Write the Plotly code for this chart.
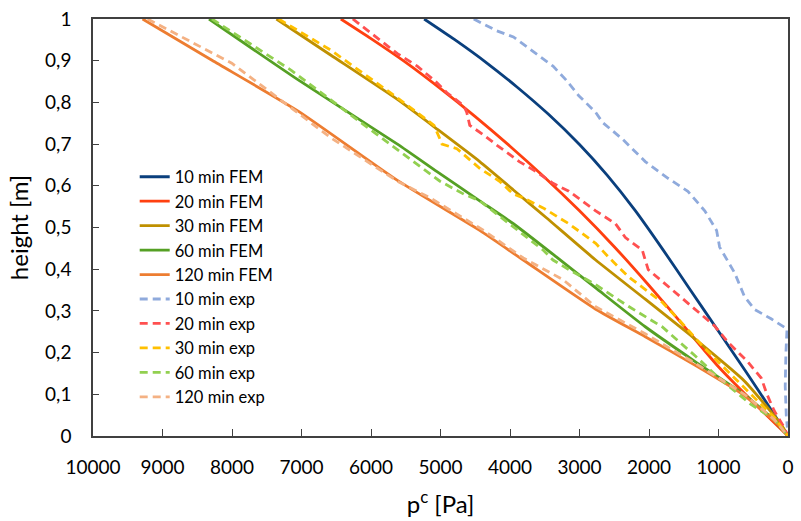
import plotly.graph_objects as go

# ---------------- data (p^c in Pa, height in m) ----------------
fem10_x = [5235, 4800, 4337, 3900, 3450, 3000, 2600, 2200, 1800, 1400, 1000, 600, 200, 0]
fem10_y = [1.0, 0.951, 0.895, 0.837, 0.772, 0.699, 0.625, 0.541, 0.447, 0.349, 0.251, 0.153, 0.052, 0]

fem20_x = [6434, 6000, 5500, 5000, 4500, 4000, 3500, 3000, 2500, 2000, 1500, 1000, 500, 0]
fem20_y = [1.0, 0.953, 0.896, 0.833, 0.766, 0.695, 0.620, 0.540, 0.454, 0.361, 0.264, 0.166, 0.081, 0]

fem30_x = [7361, 6576, 5620, 5050, 4436, 3951, 3481, 2767, 2054, 1341, 628, 100, 0]
fem30_y = [1.0, 0.913, 0.807, 0.736, 0.658, 0.590, 0.524, 0.422, 0.328, 0.233, 0.132, 0.028, 0]

fem60_x = [8331, 7047, 5620, 5050, 4436, 3951, 3338, 2767, 2054, 1341, 628, 243, 0]
fem60_y = [1.0, 0.854, 0.700, 0.634, 0.564, 0.509, 0.430, 0.355, 0.262, 0.179, 0.099, 0.045, 0]

fem120_x = [9287, 8288, 7047, 5620, 4436, 3809, 2767, 2054, 1341, 628, 100, 0]
fem120_y = [1.0, 0.901, 0.779, 0.613, 0.493, 0.422, 0.304, 0.238, 0.170, 0.097, 0.021, 0]

exp10_x = [4522, 4194, 3951, 3623, 3381, 3195, 3010, 2767, 2668, 2382, 2054, 1726, 1441, 1198,
           1027, 984, 870, 770, 628, 485, 243, 14, 30, 40, 25, 10]
exp10_y = [1.0, 0.972, 0.957, 0.917, 0.887, 0.854, 0.816, 0.776, 0.752, 0.712, 0.658, 0.618, 0.587, 0.540,
           0.493, 0.453, 0.422, 0.392, 0.335, 0.304, 0.281, 0.257, 0.200, 0.120, 0.050, 0.020]

exp20_x = [6262, 5620, 5335, 5050, 4907, 4665, 4622, 4579, 4379, 4194, 3866, 3623, 3381, 3153, 2767,
           2482, 2340, 2097, 2054, 2011, 1669, 1341, 1056, 870, 585, 385, 300, 200, 57, 0]
exp20_y = [1.0, 0.917, 0.887, 0.847, 0.823, 0.792, 0.776, 0.745, 0.722, 0.698, 0.658, 0.634, 0.606, 0.587, 0.540,
           0.509, 0.476, 0.446, 0.422, 0.399, 0.351, 0.304, 0.264, 0.226, 0.179, 0.139, 0.099, 0.061, 0.021, 0]

exp30_x = [7328, 6576, 5620, 5335, 5093, 5007, 4979, 4764, 4436, 4151, 3951, 3809, 3524, 3153, 2767,
           2582, 2297, 1812, 1583, 1198, 870, 528, 200, 0]
exp30_y = [1.0, 0.925, 0.811, 0.776, 0.745, 0.712, 0.700, 0.689, 0.642, 0.611, 0.580, 0.571, 0.547, 0.509, 0.462,
           0.429, 0.382, 0.321, 0.281, 0.210, 0.156, 0.099, 0.045, 0]

exp60_x = [8288, 7147, 6091, 5620, 5335, 5007, 4665, 4436, 4009, 3524, 3381, 3153, 2767, 2297,
           1812, 1341, 1013, 528, 200, 0]
exp60_y = [1.0, 0.877, 0.745, 0.686, 0.651, 0.611, 0.580, 0.564, 0.509, 0.446, 0.422, 0.399, 0.363, 0.311,
           0.262, 0.193, 0.142, 0.075, 0.040, 0]

exp120_x = [9215, 8003, 6576, 5620, 5150, 4379, 3809, 3238, 2767, 2054, 1341, 628, 200, 0]
exp120_y = [1.0, 0.894, 0.715, 0.611, 0.571, 0.493, 0.427, 0.375, 0.310, 0.245, 0.175, 0.100, 0.040, 0]

x_ticks = [10000, 9000, 8000, 7000, 6000, 5000, 4000, 3000, 2000, 1000, 0]
x_tick_text = ["10000", "9000", "8000", "7000", "6000", "5000", "4000", "3000", "2000", "1000", "0"]
y_ticks = [0, 0.1, 0.2, 0.3, 0.4, 0.5, 0.6, 0.7, 0.8, 0.9, 1.0]
y_tick_text = ["0", "0,1", "0,2", "0,3", "0,4", "0,5", "0,6", "0,7", "0,8", "0,9", "1"]

series = [
    ("10 min FEM", fem10_x, fem10_y, "#0A3F7D", "solid"),
    ("20 min FEM", fem20_x, fem20_y, "#FF4010", "solid"),
    ("30 min FEM", fem30_x, fem30_y, "#BF9000", "solid"),
    ("60 min FEM", fem60_x, fem60_y, "#55A024", "solid"),
    ("120 min FEM", fem120_x, fem120_y, "#ED7D31", "solid"),
    ("10 min exp", exp10_x, exp10_y, "#8FAADC", "8px,5px"),
    ("20 min exp", exp20_x, exp20_y, "#FF5050", "8px,5px"),
    ("30 min exp", exp30_x, exp30_y, "#FFC000", "8px,5px"),
    ("60 min exp", exp60_x, exp60_y, "#92D050", "8px,5px"),
    ("120 min exp", exp120_x, exp120_y, "#F4B183", "8px,5px"),
]

FONT = "Lato, 'Open Sans', sans-serif"

fig = go.Figure()
for name, xs, ys, color, dash in series:
    if dash == "solid":
        line = dict(color=color, width=2.8, dash=dash, shape="spline", smoothing=0.5)
    else:
        line = dict(color=color, width=2.8, dash=dash)
    fig.add_trace(go.Scatter(x=xs, y=ys, mode="lines", name=name, line=line))

axis_color = "#404040"
fig.update_layout(
    width=801, height=521,
    margin=dict(l=93, r=7, t=14, b=82),
    paper_bgcolor="white", plot_bgcolor="white",
    font=dict(family=FONT, size=16, color="black"),
    showlegend=True,
    legend=dict(
        x=0.06, y=0.663, xanchor="left", yanchor="top",
        bgcolor="rgba(0,0,0,0)", borderwidth=0,
        font=dict(family=FONT, size=16.5, color="black"),
        tracegroupgap=0,
    ),
    xaxis=dict(
        range=[10000, 0], tickmode="array", tickvals=x_ticks, ticktext=x_tick_text,
        ticks="inside", ticklen=7, tickwidth=1.2, tickcolor=axis_color,
        showline=True, linecolor=axis_color, linewidth=1.5, mirror=True,
        showgrid=False, zeroline=False,
        ticklabelstandoff=13,
        tickfont=dict(family=FONT, size=19, color="black"),
        title=dict(text="p<sup>c</sup> [Pa]", font=dict(family=FONT, size=24, color="black"), standoff=20),
    ),
    yaxis=dict(
        range=[0, 1], tickmode="array", tickvals=y_ticks, ticktext=y_tick_text,
        ticks="inside", ticklen=6, tickwidth=1.2, tickcolor=axis_color,
        showline=True, linecolor=axis_color, linewidth=1.5, mirror=True,
        showgrid=False, zeroline=False,
        ticklabelstandoff=16,
        tickfont=dict(family=FONT, size=19, color="black"),
        title=dict(text="height [m]", font=dict(family=FONT, size=24, color="black"), standoff=10),
    ),
)

fig.write_html("out.html")
